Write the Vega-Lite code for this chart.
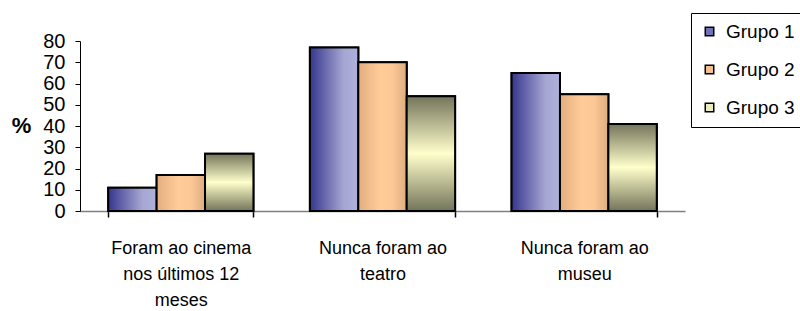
{
  "$schema": "https://vega.github.io/schema/vega-lite/v6.json",
  "width": 605,
  "height": 170,
  "autosize": "none",
  "padding": {"left": 80, "top": 41, "right": 115, "bottom": 100},
  "config": {"view": {"stroke": null}, "font": "Liberation Sans"},
  "data": {
    "values": [
      {"cat": "Foram ao cinema|nos últimos 12|meses", "grupo": "Grupo 1", "valor": 11},
      {"cat": "Foram ao cinema|nos últimos 12|meses", "grupo": "Grupo 2", "valor": 17},
      {"cat": "Foram ao cinema|nos últimos 12|meses", "grupo": "Grupo 3", "valor": 27},
      {"cat": "Nunca foram ao|teatro", "grupo": "Grupo 1", "valor": 77},
      {"cat": "Nunca foram ao|teatro", "grupo": "Grupo 2", "valor": 70},
      {"cat": "Nunca foram ao|teatro", "grupo": "Grupo 3", "valor": 54},
      {"cat": "Nunca foram ao|museu", "grupo": "Grupo 1", "valor": 65},
      {"cat": "Nunca foram ao|museu", "grupo": "Grupo 2", "valor": 55},
      {"cat": "Nunca foram ao|museu", "grupo": "Grupo 3", "valor": 41}
    ]
  },
  "encoding": {
    "x": {
      "field": "cat",
      "type": "nominal",
      "scale": {
        "domain": ["Foram ao cinema|nos últimos 12|meses", "Nunca foram ao|teatro", "Nunca foram ao|museu"],
        "paddingInner": 0.28,
        "paddingOuter": 0.14
      },
      "axis": {
        "title": null,
        "labelAngle": 0,
        "labelExpr": "split(datum.label, '|')",
        "labelFontSize": 18,
        "labelLineHeight": 26,
        "labelPadding": 22,
        "labelLimit": 0,
        "labelColor": "black",
        "domainColor": "#808080",
        "domainWidth": 1.5,
        "tickColor": "black",
        "tickBand": "extent",
        "tickSize": 6,
        "tickWidth": 1.5
      }
    },
    "xOffset": {
      "field": "grupo",
      "type": "nominal",
      "scale": {"domain": ["Grupo 1", "Grupo 2", "Grupo 3"], "paddingInner": 0, "paddingOuter": 0}
    },
    "y": {
      "field": "valor",
      "type": "quantitative",
      "scale": {"domain": [0, 80]},
      "axis": {
        "values": [0, 10, 20, 30, 40, 50, 60, 70, 80],
        "grid": false,
        "domainColor": "black",
        "tickColor": "black",
        "tickSize": 5,
        "labelPadding": 10,
        "labelFontSize": 20,
        "labelColor": "black",
        "title": "%",
        "titleAngle": 0,
        "titleFontSize": 22,
        "titleFontWeight": "bold",
        "titleColor": "black",
        "titleX": -59,
        "titleY": 84,
        "titleAlign": "center",
        "titleBaseline": "middle"
      }
    }
  },
  "layer": [
    {
      "mark": {"type": "bar", "stroke": "black", "strokeWidth": 2},
      "encoding": {
        "color": {
          "field": "grupo",
          "type": "nominal",
          "scale": {"domain": ["Grupo 1", "Grupo 2", "Grupo 3"], "range": ["#7272ba", "#f4c090", "#ececbc"]},
          "legend": {
            "orient": "none",
            "legendX": 611,
            "legendY": -28,
            "title": null,
            "symbolType": "square",
            "symbolSize": 72,
            "symbolStrokeColor": "black",
            "symbolStrokeWidth": 1.5,
            "symbolOpacity": 1,
            "labelFontSize": 19,
            "labelColor": "black",
            "labelOffset": 7,
            "strokeColor": "black",
            "fillColor": "white",
            "padding": 9,
            "rowPadding": 18
          }
        }
      }
    },
    {
      "transform": [{"filter": "datum.grupo === 'Grupo 1'"}],
      "mark": {
        "type": "bar",
        "stroke": "black",
        "strokeWidth": 2,
        "fill": {
          "gradient": "linear",
          "x1": 0, "y1": 0, "x2": 1, "y2": 0,
          "stops": [
            {"offset": 0, "color": "#36368e"},
            {"offset": 0.7, "color": "#a6a6d2"},
            {"offset": 1, "color": "#b0b0dc"}
          ]
        }
      }
    },
    {
      "transform": [{"filter": "datum.grupo === 'Grupo 2'"}],
      "mark": {
        "type": "bar",
        "stroke": "black",
        "strokeWidth": 2,
        "fill": {
          "gradient": "linear",
          "x1": 0, "y1": 0, "x2": 1, "y2": 0,
          "stops": [
            {"offset": 0, "color": "#e2ae80"},
            {"offset": 0.45, "color": "#ffcc99"},
            {"offset": 0.7, "color": "#fcc996"},
            {"offset": 1, "color": "#dead80"}
          ]
        }
      }
    },
    {
      "transform": [{"filter": "datum.grupo === 'Grupo 3'"}],
      "mark": {
        "type": "bar",
        "stroke": "black",
        "strokeWidth": 2,
        "fill": {
          "gradient": "linear",
          "x1": 0, "y1": 0, "x2": 0, "y2": 1,
          "stops": [
            {"offset": 0, "color": "#74745a"},
            {"offset": 0.5, "color": "#ffffcc"},
            {"offset": 1, "color": "#74745a"}
          ]
        }
      }
    }
  ]
}
